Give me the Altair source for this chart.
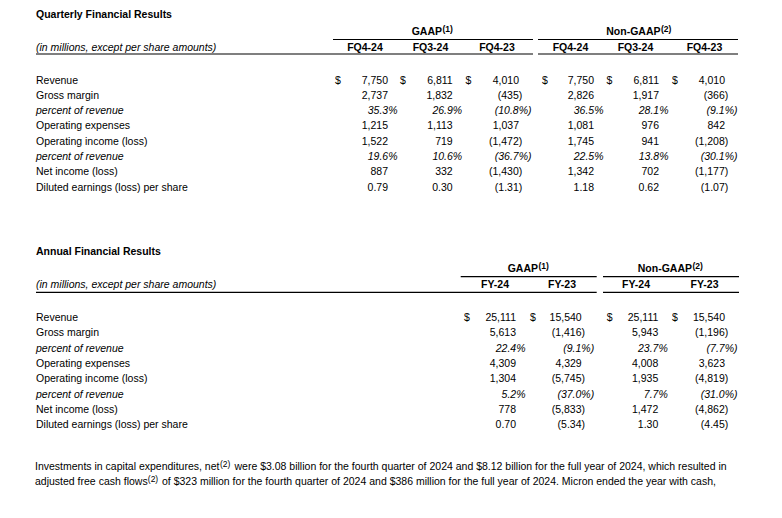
import altair as alt
import pandas as pd

# ---------------- data ----------------
row_labels = ["Revenue", "Gross margin", "percent of revenue", "Operating expenses",
              "Operating income (loss)", "percent of revenue", "Net income (loss)",
              "Diluted earnings (loss) per share"]
row_kinds = ["usd", "num", "pct", "num", "num", "pct", "num", "eps"]

q_title = "Quarterly Financial Results"
a_title = "Annual Financial Results"
unit_note = "(in millions, except per share amounts)"
groups = [("GAAP", "(1)"), ("Non-GAAP", "(2)")]

q_columns = ["FQ4-24", "FQ3-24", "FQ4-23", "FQ4-24", "FQ3-24", "FQ4-23"]
q_gaap_fq4_24 = [7750, 2737, 35.3, 1215, 1522, 19.6, 887, 0.79]
q_gaap_fq3_24 = [6811, 1832, 26.9, 1113, 719, 10.6, 332, 0.30]
q_gaap_fq4_23 = [4010, -435, -10.8, 1037, -1472, -36.7, -1430, -1.31]
q_ngaap_fq4_24 = [7750, 2826, 36.5, 1081, 1745, 22.5, 1342, 1.18]
q_ngaap_fq3_24 = [6811, 1917, 28.1, 976, 941, 13.8, 702, 0.62]
q_ngaap_fq4_23 = [4010, -366, -9.1, 842, -1208, -30.1, -1177, -1.07]
q_series = [q_gaap_fq4_24, q_gaap_fq3_24, q_gaap_fq4_23,
            q_ngaap_fq4_24, q_ngaap_fq3_24, q_ngaap_fq4_23]

a_columns = ["FY-24", "FY-23", "FY-24", "FY-23"]
a_gaap_fy24 = [25111, 5613, 22.4, 4309, 1304, 5.2, 778, 0.70]
a_gaap_fy23 = [15540, -1416, -9.1, 4329, -5745, -37.0, -5833, -5.34]
a_ngaap_fy24 = [25111, 5943, 23.7, 4008, 1935, 7.7, 1472, 1.30]
a_ngaap_fy23 = [15540, -1196, -7.7, 3623, -4819, -31.0, -4862, -4.45]
a_series = [a_gaap_fy24, a_gaap_fy23, a_ngaap_fy24, a_ngaap_fy23]

para_line1 = ["Investments in capital expenditures, net", "(2)",
              "were $3.08 billion for the fourth quarter of 2024 and $8.12 billion for the full year of 2024, which resulted in"]
para_line2 = ["adjusted free cash flows", "(2)",
              "of $323 million for the fourth quarter of 2024 and $386 million for the full year of 2024. Micron ended the year with cash,"]

# ---------------- layout ----------------
FONT = "Liberation Sans, Arial, Helvetica, sans-serif"
FS = 10.5
SUP_HEAD = 8.5
SUP_PARA = 8.5
LEFT = 36
ROW_STEP = 15.33

quarterly = dict(
    title_y=15, group_y=32, group_line_y=39.5, head_y=48, head_line_y=54, row0=80.5,
    right=[388, 452.7, 519, 594, 659, 725],
    dollar=[335, 400, 465.5, 542, 606.5, 672],
    head_x=[365, 430.5, 497, 570.5, 635.5, 704.5],
    group_lines=[(333, 533), (538, 738)],
    head_lines=[(LEFT, 533), (538, 738)],
    group_split=[442, 660.5],
    columns=q_columns, series=q_series,
)
annual = dict(
    title_y=252, group_y=269, group_line_y=276.7, head_y=285, head_line_y=292.3, row0=318,
    right=[516, 581.7, 658.3, 725],
    dollar=[464, 530, 606.7, 672],
    head_x=[495, 562, 636, 704.5],
    group_lines=[(460.7, 596.7), (603, 739)],
    head_lines=[(LEFT, 596.7), (603, 739)],
    group_split=[538, 692],
    columns=a_columns, series=a_series,
)
para = dict(x=35, y=[467, 482], sup_x=[220, 147.8], rest_x=[234.5, 162])


def fmt(v, kind):
    if kind == "pct":
        s = f"{abs(v):.1f}%"
    elif kind == "eps":
        s = f"{abs(v):.2f}"
    else:
        s = f"{abs(v):,.0f}"
    return f"({s})" if v < 0 else s


texts = []
rules = []


def add_text(x, y, t, align="left", weight="normal", style="normal", size=FS):
    texts.append(dict(x=x, y=y, t=t, align=align, weight=weight, style=style, size=size))


def build_table(title, L):
    add_text(LEFT, L["title_y"], title, weight="bold")
    add_text(LEFT, L["head_y"], unit_note, style="italic")
    for (g, sup), sx in zip(groups, L["group_split"]):
        add_text(sx, L["group_y"], g, align="right", weight="bold")
        add_text(sx + 0.5, L["group_y"] - 3.5, sup, weight="bold", size=SUP_HEAD)
    for (a, b) in L["group_lines"]:
        rules.append(dict(x=a, x2=b, y=L["group_line_y"]))
    for (a, b) in L["head_lines"]:
        rules.append(dict(x=a, x2=b, y=L["head_line_y"]))
    for c, hx in zip(L["columns"], L["head_x"]):
        add_text(hx, L["head_y"], c, align="center", weight="bold")
    for i, (lab, kind) in enumerate(zip(row_labels, row_kinds)):
        y = L["row0"] + i * ROW_STEP
        style = "italic" if kind == "pct" else "normal"
        add_text(LEFT, y, lab, style=style)
        for j, ser in enumerate(L["series"]):
            v = ser[i]
            r = L["right"][j]
            if kind == "pct":
                x = r + (12.5 if v < 0 else 9.5)
            else:
                x = r + (3.3 if v < 0 else 0)
            add_text(x, y, fmt(v, kind), align="right", style=style)
            if kind == "usd":
                add_text(L["dollar"][j], y, "$")


build_table(q_title, quarterly)
build_table(a_title, annual)

for k, line in enumerate([para_line1, para_line2]):
    y = para["y"][k]
    add_text(para["x"], y, line[0])
    add_text(para["sup_x"][k], y - 3.5, line[1], size=SUP_PARA)
    add_text(para["rest_x"][k], y, line[2])

tdf = pd.DataFrame(texts)
rdf = pd.DataFrame(rules)

X = alt.X("x:Q", scale=alt.Scale(domain=[8, 774], nice=False, zero=False), axis=None)
Y = alt.Y("y:Q", scale=alt.Scale(domain=[8, 510], nice=False, zero=False, reverse=True), axis=None)

layers = [
    alt.Chart(rdf).mark_rule(color="black", strokeWidth=1.2).encode(
        x=X, x2="x2:Q", y=Y)
]
for (align, weight, style, size), g in tdf.groupby(["align", "weight", "style", "size"]):
    layers.append(
        alt.Chart(g.reset_index(drop=True)).mark_text(
            align=align, baseline="middle", font=FONT, fontSize=float(size),
            fontWeight=weight, fontStyle=style, color="black"
        ).encode(x=X, y=Y, text="t:N")
    )

chart = alt.layer(*layers).properties(
    width=766, height=502,
    autosize=alt.AutoSizeParams(type="none"),
    padding=0,
    background="white",
).configure_view(stroke=None)

chart.save("out.html", embed_options={"renderer": "svg", "actions": False})
